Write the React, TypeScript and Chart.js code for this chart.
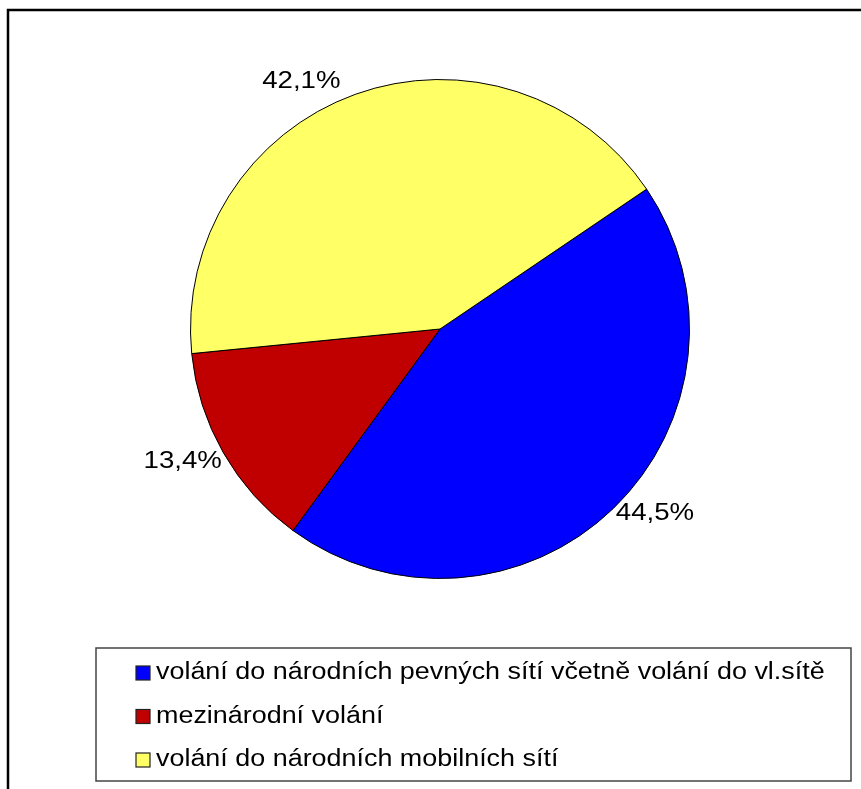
import React, { useEffect, useRef } from "react";
import { Chart, registerables } from "chart.js";

Chart.register(...registerables);

const categories = [
  "volání do národních pevných sítí včetně volání do vl.sítě",
  "mezinárodní volání",
  "volání do národních mobilních sítí",
];
const shares = [44.5, 13.4, 42.1];
const percentLabels = ["44,5%", "13,4%", "42,1%"];
const colors = ["#0000FF", "#C00000", "#FFFF66"];

const FONT = "Liberation Sans, Arial, sans-serif";

const framePlugin = {
  id: "frame",
  beforeDraw(chart: any) {
    const ctx = chart.ctx;
    ctx.save();
    ctx.fillStyle = "#ffffff";
    ctx.fillRect(0, 0, chart.width, chart.height);
    ctx.strokeStyle = "#000000";
    ctx.lineWidth = 2.5;
    ctx.strokeRect(8, 10, chart.width + 20, chart.height + 20);
    ctx.restore();
  },
};

const pctPlugin = {
  id: "pctLabels",
  afterDatasetsDraw(chart: any, _args: any, opts: any) {
    const ctx = chart.ctx;
    const meta = chart.getDatasetMeta(0);
    ctx.save();
    ctx.fillStyle = "#000";
    ctx.font = `${opts.size}px ${FONT}`;
    ctx.textAlign = "center";
    ctx.textBaseline = "middle";
    meta.data.forEach((arc: any, i: number) => {
      const p = arc.getProps(["x", "y", "startAngle", "endAngle", "outerRadius"], true);
      const t = opts.tweaks[i];
      const a = (p.startAngle + p.endAngle) / 2 + (t.da * Math.PI) / 180;
      const d = p.outerRadius + t.dr;
      const x = p.x + Math.cos(a) * d;
      const y = p.y + Math.sin(a) * d;
      ctx.save();
      ctx.translate(x, y);
      ctx.scale(opts.stretch, 1);
      ctx.fillText(chart.data.datasets[0].pctLabels[i], 0, 0);
      ctx.restore();
    });
    ctx.restore();
  },
};

const legendPlugin = {
  id: "boxLegend",
  afterDraw(chart: any, _args: any, opts: any) {
    const ctx = chart.ctx;
    const ds = chart.data.datasets[0];
    ctx.save();
    ctx.strokeStyle = "#444";
    ctx.lineWidth = 1.5;
    ctx.strokeRect(opts.x, opts.y, opts.w, opts.h);
    ctx.font = `${opts.size}px ${FONT}`;
    ctx.textBaseline = "middle";
    ctx.textAlign = "left";
    chart.data.labels.forEach((lab: string, i: number) => {
      const cy = opts.y + opts.first + i * opts.step;
      ctx.fillStyle = ds.backgroundColor[i];
      ctx.fillRect(opts.x + opts.markX, cy - 7, 14, 14);
      ctx.strokeStyle = "#222";
      ctx.lineWidth = 1.2;
      ctx.strokeRect(opts.x + opts.markX, cy - 7, 14, 14);
      ctx.fillStyle = "#000";
      ctx.save();
      ctx.translate(opts.x + opts.textX, cy);
      ctx.scale(opts.stretch, 1);
      ctx.fillText(lab, 0, 0);
      ctx.restore();
    });
    ctx.restore();
  },
};

export default function App() {
  const ref = useRef<HTMLCanvasElement>(null);
  useEffect(() => {
    document.body.style.margin = "0";
    const chart = new Chart(ref.current!, {
      type: "pie",
      data: {
        labels: categories,
        datasets: [
          {
            data: shares,
            backgroundColor: colors,
            borderColor: "#000000",
            borderWidth: 1,
            pctLabels: percentLabels,
          } as any,
        ],
      },
      options: {
        animation: false,
        responsive: false,
        rotation: 55.9,
        layout: { padding: { left: 190, right: 171, top: 79, bottom: 210 } },
        plugins: {
          legend: { display: false },
          tooltip: { enabled: false },
          pctLabels: {
            size: 24,
            stretch: 1.15,
            tweaks: [
              { da: -5.3, dr: 34 },
              { da: 2.5, dr: 40 },
              { da: -9.4, dr: 34 },
            ],
          },
          boxLegend: {
            x: 96,
            y: 648,
            w: 755,
            h: 133,
            first: 25,
            step: 43.5,
            size: 23,
            stretch: 1.17,
            markX: 40,
            textX: 60,
          },
        } as any,
      },
      plugins: [framePlugin, pctPlugin, legendPlugin],
    });
    return () => chart.destroy();
  }, []);
  return <canvas ref={ref} width={861} height={789} style={{ display: "block" }} />;
}
